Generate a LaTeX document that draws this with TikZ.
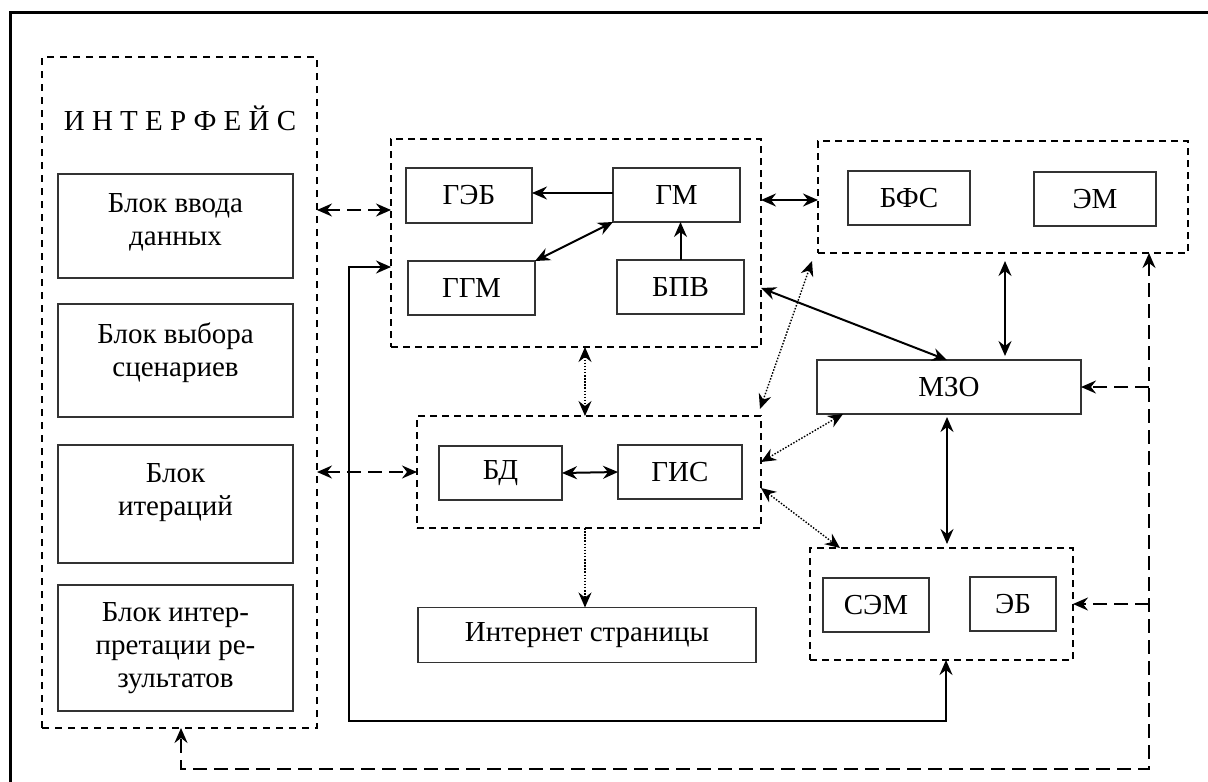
\documentclass[tikz,border=0pt]{standalone}
\usepackage{fontspec}
\setmainfont{Liberation Serif}
\usetikzlibrary{arrows.meta,calc}
\begin{document}
\begin{tikzpicture}[x=1pt,y=-1pt,
  >={Stealth[length=15pt,width=13pt,inset=5pt]},
  txtfont/.style={font=\fontsize{29}{33}\selectfont},
  box/.style={draw=black!80, line width=1.1pt, inner sep=0pt, outer sep=0pt, txtfont, align=center},
  grp/.style={draw, dash pattern=on 7pt off 5pt, line width=2pt, inner sep=0pt, outer sep=0pt},
  igrp/.style={draw, dash pattern=on 7pt off 6pt, line width=1.7pt, inner sep=0pt, outer sep=0pt},
  lbl/.style={txtfont, align=center, inner sep=0pt},
  slink/.style={line width=2pt},
  dlink/.style={line width=2pt, dash pattern=on 14pt off 7pt},
  olink/.style={line width=1.4pt, dash pattern=on 1.5pt off 1.6pt},
]
\useasboundingbox (0,0) rectangle (1208,782);
\path[fill=white] (0,0) rectangle (1208,782);
% outer frame
\draw[line width=3pt] (10,782) -- (10,12) -- (1208,12);

% interface
\node[igrp, minimum width=275pt, minimum height=671pt] (iface) at (179.5,392.5) {};
\node[lbl] (title) at (180,118) {И Н Т Е Р Ф Е Й С};
\node[box, minimum width=235pt, minimum height=104pt] (b1) at (175.5,226) {};
\node[box, minimum width=235pt, minimum height=113pt] (b2) at (175.5,360.5) {};
\node[box, minimum width=235pt, minimum height=118pt] (b3) at (175.5,504) {};
\node[box, minimum width=235pt, minimum height=126pt] (b4) at (175.5,648) {};
\node[lbl] (t1) at ($(b1.center)+(0,-4)$) {Блок ввода\\данных};
\node[lbl] (t2) at ($(b2.center)+(0,-8)$) {Блок выбора\\сценариев};
\node[lbl] (t3) at ($(b3.center)+(0,-11)$) {Блок\\итераций};
\node[lbl] (t4) at ($(b4.center)+(0,0)$) {Блок интер-\\претации ре-\\зультатов};

% top group
\node[grp, minimum width=370pt, minimum height=208pt] (gtop) at (576,243) {};
\node[box, minimum width=126pt, minimum height=55pt] (geb) at (469,195.5) {ГЭБ};
\node[box, minimum width=127pt, minimum height=54pt] (gm) at (676.5,195) {ГМ};
\node[box, minimum width=127pt, minimum height=54pt] (ggm) at (471.5,288) {ГГМ};
\node[box, minimum width=127pt, minimum height=54pt] (bpv) at (680.5,287) {БПВ};

% right group
\node[grp, minimum width=370pt, minimum height=112pt] (gright) at (1003,197) {};
\node[box, minimum width=122pt, minimum height=54pt] (bfs) at (909,198) {БФС};
\node[box, minimum width=122pt, minimum height=54pt] (em) at (1095,199) {ЭМ};

% MZO
\node[box, minimum width=264pt, minimum height=54pt] (mzo) at (949,387) {МЗО};

% bottom group
\node[grp, minimum width=344pt, minimum height=112pt] (gbot) at (589,472) {};
\node[box, minimum width=123pt, minimum height=54pt] (bd) at (500.5,473) {БД};
\node[box, minimum width=124pt, minimum height=54pt] (gis) at (680,472) {ГИС};

% internet
\node[box, minimum width=338pt, minimum height=55pt] (inet) at (587,635) {Интернет страницы};

% SEM group
\node[grp, minimum width=263pt, minimum height=112pt] (gsem) at (941.5,604) {};
\node[box, minimum width=106pt, minimum height=54pt] (sem) at (876,605) {СЭМ};
\node[box, minimum width=86pt, minimum height=54pt] (eb) at (1013,604) {ЭБ};

% helper coordinates
\coordinate (h1) at (0,210);
\coordinate (h2) at (0,472);
\coordinate (h3) at (0,200);
\coordinate (h4) at (0,288);
\coordinate (h5) at (0,462);
\coordinate (h6) at (0,488);
\coordinate (h7) at (0,267);
\coordinate (h8) at (0,193);
\coordinate (v1) at (947,0);
\coordinate (v2) at (1005,0);
\coordinate (v4) at (585,0);
\coordinate (v5) at (843,0);
\coordinate (v6) at (840,0);
\coordinate (v7) at (946,0);
\coordinate (c1) at (349,721);
\coordinate (c2) at (1149,769);
\coordinate (c3) at (181,769);

% interface links
\draw[dlink,<->] (iface.east |- h1) -- (gtop.west |- h1);
\draw[dlink,<->] (iface.east |- h2) -- (gbot.west |- h2);

% top group internals
\draw[slink,->] (gm.west |- h8) -- (geb.east |- h8);
\draw[slink,<->] (ggm.north east) -- (gm.south west);
\draw[slink,->] (bpv.north) -- (gm.south -| bpv.north);

% solid links
\draw[slink,<->] (gtop.east |- h3) -- (gright.west |- h3);
\draw[slink,<->] (gtop.east |- h4) -- (mzo.north -| v1);
\draw[slink,<->] ($(gright.south -| v2)+(0,8)$) -- ($(mzo.north -| v2)+(0,-4)$);
\draw[slink,<->] ($(mzo.south -| v1)+(0,3)$) -- ($(gsem.north -| v1)+(0,-4)$);
\draw[slink,<->] (bd.east) -- (gis.west);

% dotted links
\draw[olink,<->] (gtop.south -| v4) -- (gbot.north -| v4);
\draw[olink,->] (gbot.south -| v4) -- (inet.north -| v4);
\draw[olink,<->] ($(gright.south west)+(-6,8)$) -- ($(gbot.north east)+(-1,-7)$);
\draw[olink,<->] (gbot.east |- h5) -- (mzo.south -| v5);
\draw[olink,<->] (gbot.east |- h6) -- (gsem.north -| v6);

% solid loop
\draw[slink,<->] (gtop.west |- h7) -| (c1) -| (gsem.south -| v7);

% dashed loop
\draw[dlink,<->] (gright.south -| c2) -- (c2) -| (iface.south -| c3);
\draw[dlink,->] (c2 |- mzo.east) -- (mzo.east);
\draw[dlink,->] (c2 |- gsem.east) -- (gsem.east);
\end{tikzpicture}
\end{document}
